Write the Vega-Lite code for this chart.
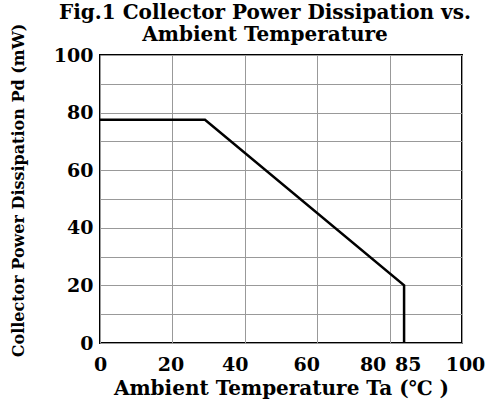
{
  "$schema": "https://vega.github.io/schema/vega-lite/v6.json",
  "width": 362,
  "height": 288,
  "autosize": {"type": "none"},
  "padding": {"left": 100, "top": 55, "right": 25, "bottom": 64},
  "background": "white",
  "title": {
    "text": ["Fig.1 Collector Power Dissipation vs.", "Ambient Temperature"],
    "font": "DejaVu Serif",
    "fontWeight": "bold",
    "fontSize": 20,
    "color": "black",
    "anchor": "middle",
    "dx": -16,
    "lineHeight": 22,
    "offset": -22
  },
  "config": {
    "view": {"stroke": "black", "strokeWidth": 2},
    "axis": {
      "labelFont": "DejaVu Serif",
      "labelFontWeight": "bold",
      "labelFontSize": 19,
      "labelColor": "black",
      "titleFont": "DejaVu Serif",
      "titleFontWeight": "bold",
      "titleColor": "black",
      "grid": true,
      "gridColor": "#999999",
      "gridWidth": 1,
      "gridOpacity": 1,
      "domain": false,
      "ticks": false
    }
  },
  "data": {
    "values": [
      {"ta": 0, "pd": 77.5, "o": 1},
      {"ta": 29, "pd": 77.5, "o": 2},
      {"ta": 84, "pd": 20, "o": 3},
      {"ta": 84, "pd": 0, "o": 4}
    ]
  },
  "mark": {"type": "line", "color": "black", "strokeWidth": 2.5},
  "encoding": {
    "x": {
      "field": "ta",
      "type": "quantitative",
      "scale": {"domain": [0, 100], "nice": false},
      "axis": {
        "title": "Ambient Temperature Ta (℃ )",
        "titleFontSize": 20,
        "titlePadding": 4,
        "values": [0, 20, 40, 60, 80, 85, 100],
        "labelPadding": 12,
        "labelOffset": {"expr": "datum.value == 20 ? -2 : datum.value == 40 ? -10 : datum.value == 60 ? -11 : datum.value == 80 ? -17 : datum.value == 100 ? 3 : 0"},
        "gridOpacity": {"expr": "datum.value == 85 ? 0 : 1"},
        "labelFlush": false,
        "labelOverlap": false
      }
    },
    "y": {
      "field": "pd",
      "type": "quantitative",
      "scale": {"domain": [0, 100], "nice": false},
      "axis": {
        "title": "Collector Power Dissipation Pd (mW)",
        "titleFontSize": 16,
        "titlePadding": 27,
        "titleY": 135,
        "titleAlign": "center",
        "grid": true,
        "values": [0, 10, 20, 30, 40, 50, 60, 70, 80, 90, 100],
        "labelOpacity": {"expr": "datum.value % 20 == 0 ? 1 : 0"},
        "labelPadding": 7,
        "labelOverlap": false
      }
    },
    "order": {"field": "o", "type": "quantitative"}
  }
}
